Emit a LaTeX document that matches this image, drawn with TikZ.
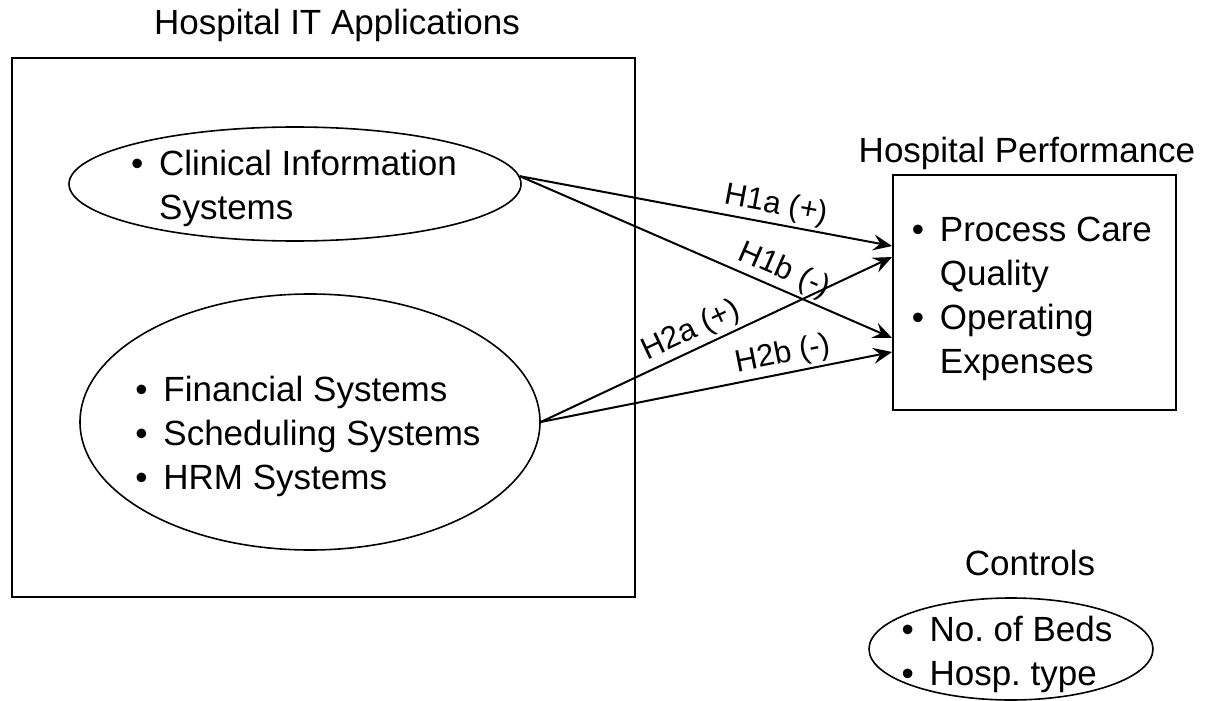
\documentclass[tikz,border=0pt]{standalone}
\usepackage{fontspec}
\setmainfont{Liberation Sans}
\usetikzlibrary{positioning,arrows.meta,shapes.geometric,calc}
\newcommand{\bul}{\makebox[0.8em][l]{\textbullet}}
\newcommand{\ind}{\hspace*{0.8em}}
\frenchspacing

\begin{document}
\begin{tikzpicture}[x=0.5pt,y=-0.5pt,font=\fontsize{17.5}{22}\selectfont,
  grp/.style={draw,line width=0.9pt,inner sep=0pt},
  oval/.style={draw,ellipse,line width=0.8pt,inner sep=0pt},
  lnk/.style={-{Stealth[length=9.5pt,width=8pt,inset=3.5pt]},line width=1pt},
  hyp/.style={sloped,above,inner sep=1.5pt,font=\fontsize{15.5}{18}\selectfont}]
\useasboundingbox (0,0) rectangle (1217,701);
% --- IT applications ---
\node (appsT) at (337,25) {Hospital IT Applications};
\node[grp,minimum width=311.5pt,minimum height=269.5pt] (apps) at (323.5,327.5) {};
\node[oval,minimum width=226pt,minimum height=57pt] (clin) at (295,184) {};
\node[align=left] (clinT) at (294,188) {\bul Clinical Information\\\ind Systems};
\node[oval,minimum width=230pt,minimum height=128pt] (admin) at (310,422) {};
\node[align=left] (adminT) at (308,436) {\bul Financial Systems\\\bul Scheduling Systems\\\bul HRM Systems};
% --- performance ---
\node (perfT) at (1027,153) {Hospital Performance};
\node[grp,minimum width=141.5pt,minimum height=117.5pt] (perf) at (1034.5,292.5) {};
\node[align=left] (perfL) at (1032,299) {\bul Process Care\\\ind Quality\\\bul Operating\\\ind Expenses};
% --- controls ---
\node (ctrlT) at (1030,563) {Controls};
\node[oval,minimum width=142pt,minimum height=51pt] (ctrl) at (1011,649) {};
\node[align=left] (ctrlL) at (1007,654) {\bul No. of Beds\\\bul Hosp. type};
% --- hypotheses ---
\draw[lnk] (clin.2) -- ($(perf.west)+(0,-46.5)$) node[hyp,pos=.68] (h1a) {H1a (+)};
\draw[lnk] (clin.2) -- ($(perf.west)+(0,45.5)$) node[hyp,pos=.69] (h1b) {H1b (-)};
\draw[lnk] (admin.east) -- ($(perf.west)+(0,-35.5)$) node[hyp,pos=.45] (h2a) {H2a (+)};
\draw[lnk] (admin.east) -- ($(perf.west)+(0,59.5)$) node[hyp,pos=.70] (h2b) {H2b (-)};
\end{tikzpicture}
\end{document}
